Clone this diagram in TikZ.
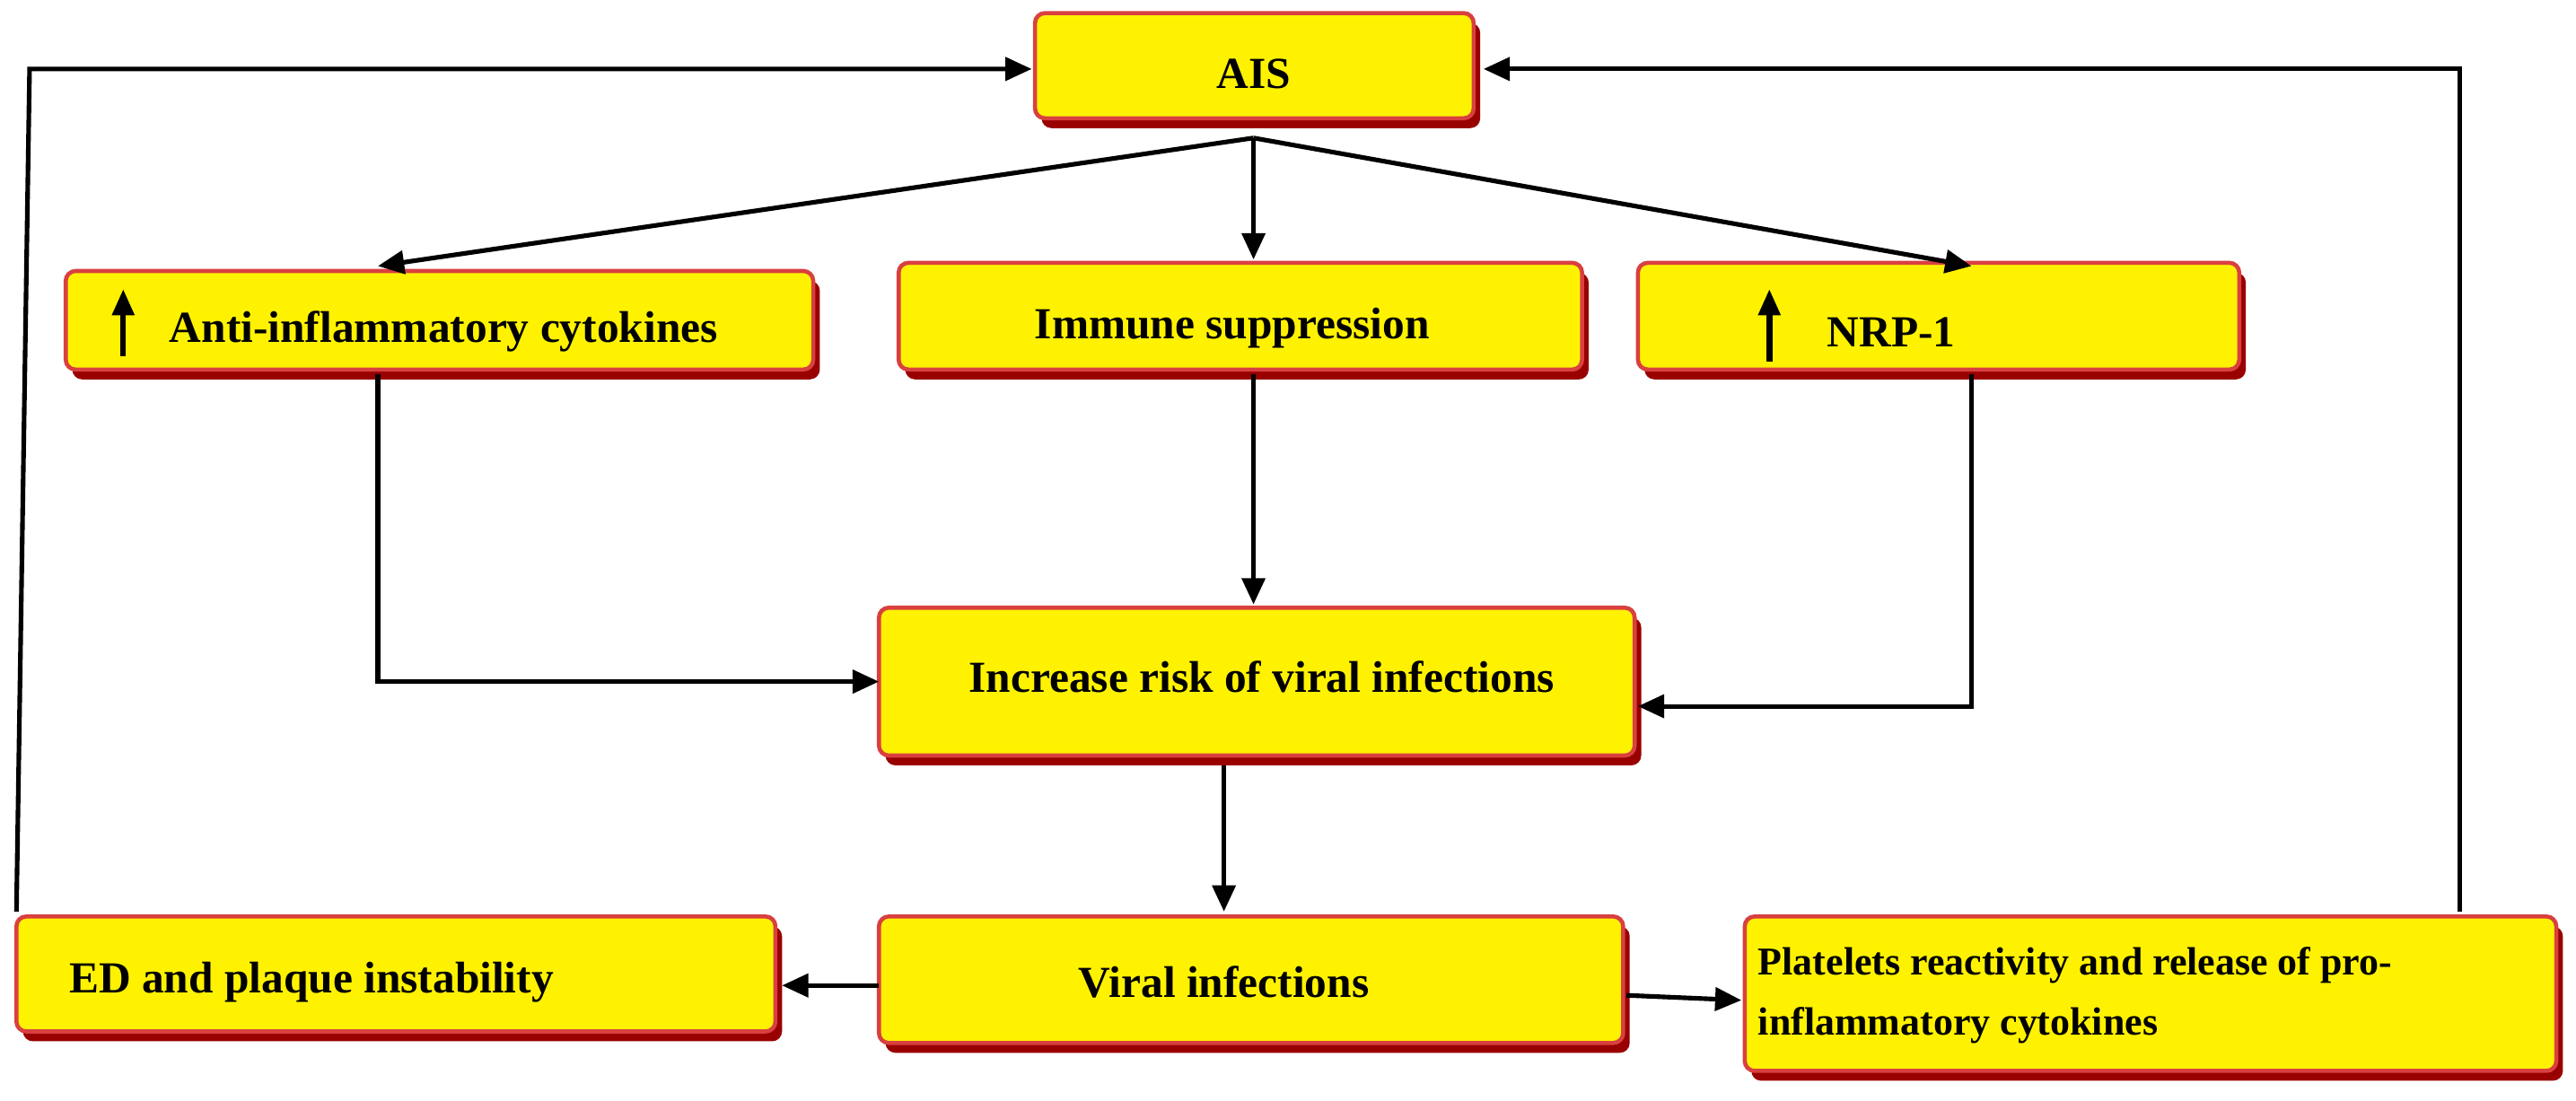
\documentclass[tikz,border=0pt]{standalone}
\usepackage{fontspec}
\setmainfont{Liberation Serif}
\usetikzlibrary{arrows.meta,shadows}
\begin{document}
\begin{tikzpicture}[x=1pt,y=-1pt,
  box/.style={draw=red!80!black!75, line width=2.5pt, fill=yellow, rounded corners=6pt,
    drop shadow={shadow xshift=4pt, shadow yshift=-6pt, fill=red!60!black, opacity=1}},
  lbl/.style={font=\bfseries\fontsize{27}{31}\selectfont, inner sep=0pt},
  arr/.style={line width=2.8pt, -{Triangle[length=16pt,width=14pt]}},
  up/.style={line width=3.5pt, -{Triangle[length=16pt,width=13pt]}}]
\useasboundingbox (0,0) rectangle (1568,670);
\path[box] (630,8) rectangle (897,72); \node (ais) at (763.5,40) {};
\node[lbl] (aist) at (763,45) {AIS};
\path[box] (40,165) rectangle (495,225); \node (anti) at (267,195) {};
\node[lbl,anchor=west] (antit) at (103,202) {Anti-inflammatory cytokines};
\path[box] (547,160) rectangle (963,225); \node (imm) at (755,192) {};
\node[lbl] (immt) at (750,200) {Immune suppression};
\path[box] (997,160) rectangle (1363,225); \node (nrp) at (1180,192) {};
\node[lbl,anchor=west] (nrpt) at (1112,202) {NRP-1};
\path[box] (535,370) rectangle (995,460); \node (inc) at (765,415) {};
\node[lbl] (inct) at (768,412) {Increase risk of viral infections};
\path[box] (10,558) rectangle (472,628); \node (ed) at (241,593) {};
\node[lbl,anchor=west] (edt) at (42,598) {ED and plaque instability};
\path[box] (535,558) rectangle (988,635); \node (vir) at (761,596) {};
\node[lbl] (virt) at (745,598) {Viral infections};
\path[box] (1062,558) rectangle (1556,652); \node (pla) at (1309,605) {};
\node[lbl,anchor=west,align=left,font=\bfseries\fontsize{24}{37}\selectfont] (plat) at (1070,606) {Platelets reactivity and release of pro-\\inflammatory cytokines};
\coordinate (aisb) at (763,84);
\coordinate (c3) at (18,42); \coordinate (c4) at (1497,42);
\coordinate (a1) at (75,217); \coordinate (a2) at (75,176);
\coordinate (b1) at (1077,220); \coordinate (b2) at (1077,176);
\draw[up] (a1) -- (a2);
\draw[up] (b1) -- (b2);
\draw[arr] (aisb) -- (230,162);
\draw[arr] (aisb) -- (763,158);
\draw[arr] (aisb) -- (1200,162);
\draw[arr] (230,228) |- (535,415);
\draw[arr] (763,228) -- (763,368);
\draw[arr] (1200,228) |- (997,430);
\draw[arr] (745,466) -- (745,555);
\draw[arr] (535,600) -- (476,600);
\draw[arr] (990,606) -- (1060,609);
\draw[arr] (10,555) -- (c3) -- (628,42);
\draw[arr] (1497,555) -- (c4) -- (903,42);
\end{tikzpicture}
\end{document}
